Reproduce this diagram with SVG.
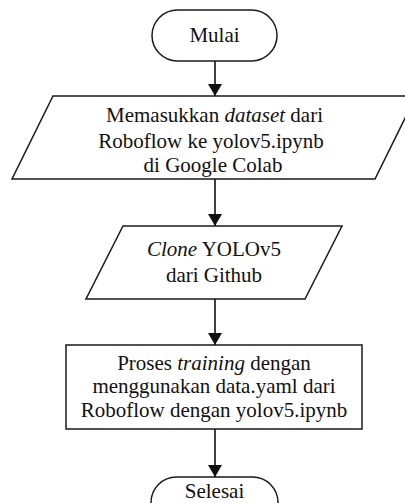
<svg xmlns="http://www.w3.org/2000/svg" width="405" height="503" viewBox="0 0 405 503">
<style>
.s{fill:#fff;stroke:#1a1a1a;stroke-width:1.5}
.t{font-family:"Liberation Serif","Times New Roman",serif;font-size:21px;fill:#111;text-anchor:middle}
.i{font-style:italic}
.c{stroke:#111;stroke-width:1.6;fill:none}
</style>
<defs>
<marker id="ah" viewBox="0 0 12 14" refX="12" refY="7" markerWidth="12" markerHeight="14" markerUnits="userSpaceOnUse" orient="auto">
<path d="M0,0 L12,7 L0,14 Z" fill="#111"/>
</marker>
</defs>
<rect width="405" height="503" fill="#fff"/>
<g id="connectors">
<line class="c" x1="215" y1="61" x2="215" y2="96" marker-end="url(#ah)"/>
<line class="c" x1="215" y1="179" x2="215" y2="226" marker-end="url(#ah)"/>
<line class="c" x1="215" y1="299" x2="215" y2="345" marker-end="url(#ah)"/>
<line class="c" x1="215" y1="429" x2="215" y2="477" marker-end="url(#ah)"/>
</g>
<g id="mulai">
<rect class="s" x="152" y="10" width="125" height="51" rx="25.5" ry="25.5"/>
<text class="t" x="214.5" y="42">Mulai</text>
</g>
<g id="input-dataset">
<polygon class="s" points="53,96 416,96 375,179 12,179"/>
<text class="t" x="214.5" y="122">Memasukkan <tspan class="i">dataset</tspan> dari</text>
<text class="t" x="211" y="147.5">Roboflow ke yolov5.ipynb</text>
<text class="t" x="213" y="171.5">di Google Colab</text>
</g>
<g id="clone">
<polygon class="s" points="123,226 342,226 305,299 86,299"/>
<text class="t" x="214" y="256"><tspan class="i">Clone</tspan> YOLOv5</text>
<text class="t" x="214" y="282">dari Github</text>
</g>
<g id="training">
<rect class="s" x="66" y="345" width="296" height="84"/>
<text class="t" x="214" y="370">Proses <tspan class="i">training</tspan> dengan</text>
<text class="t" x="214" y="393">menggunakan data.yaml dari</text>
<text class="t" x="214" y="417">Roboflow dengan yolov5.ipynb</text>
</g>
<g id="selesai">
<rect class="s" x="151" y="477" width="127" height="51" rx="25.5" ry="25.5"/>
<text class="t" x="214.5" y="498">Selesai</text>
</g>
</svg>
